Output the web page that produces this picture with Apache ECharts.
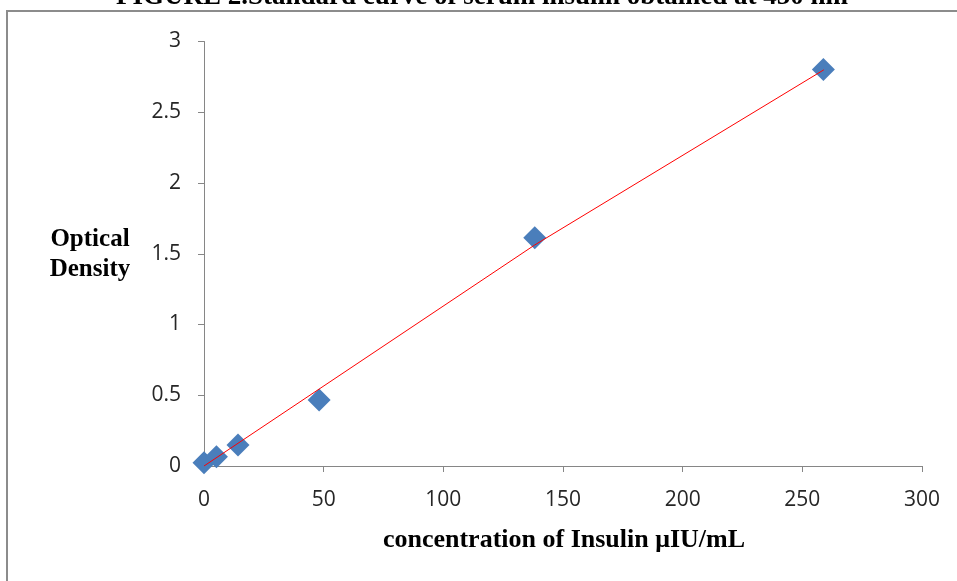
<!DOCTYPE html>
<html>
<head>
<meta charset="utf-8">
<script src="https://cdn.jsdelivr.net/npm/echarts@6/dist/echarts.min.js"></script>
<style>
html,body{margin:0;padding:0;background:#fff;}
#chart{width:957px;height:581px;}
</style>
</head>
<body>
<div id="chart"></div>
<script>
var concX = [0, 5.2, 14.2, 48.1, 138.2, 258.8];
var odY = [0.023, 0.066, 0.148, 0.466, 1.613, 2.803];
// red trend line
var trendX = [0, 138, 259];
var trendY = [0, 1.56, 2.80];
var yTicks = [0, 0.5, 1, 1.5, 2, 2.5, 3];
var xTicks = [0, 50, 100, 150, 200, 250, 300];

var points = concX.map(function(x, i){ return [x, odY[i]]; });
var trend = trendX.map(function(x, i){ return [x, trendY[i]]; });

var chart = echarts.init(document.getElementById('chart'));
var axisFont = {fontFamily:'Open Sans', fontSize:21, color:'#262626'};
chart.setOption({
    animation:false,
    grid:{left:204, right:35, top:41.5, bottom:115},
    graphic:[
        {type:'rect', shape:{x:7, y:11, width:1100, height:1000}, style:{fill:'none', stroke:'#8c8c8c', lineWidth:2}, z:-1},
        {type:'text', x:482, y:-16, style:{text:'FIGURE 2.Standard curve of serum insulin obtained at 450 nm', font:'bold 27px "Liberation Serif"', fill:'#000', textAlign:'center'}},
        {type:'text', x:90, y:255, style:{text:'Optical\nDensity', font:'bold 25px "Liberation Serif"', fill:'#000', textAlign:'center', textVerticalAlign:'middle', lineHeight:30}},
        {type:'text', x:564, y:540, style:{text:'concentration of Insulin μIU/mL', font:'bold 26px "Liberation Serif"', fill:'#000', textAlign:'center', textVerticalAlign:'middle'}}
    ],
    xAxis:{
        type:'value', min:xTicks[0], max:xTicks[xTicks.length-1], interval:50,
        axisLine:{onZero:false, lineStyle:{color:'#868686', width:1}},
        axisTick:{show:true, length:6, lineStyle:{color:'#868686'}},
        axisLabel:Object.assign({margin:24}, axisFont),
        splitLine:{show:false}
    },
    yAxis:{
        type:'value', min:yTicks[0], max:yTicks[yTicks.length-1], interval:0.5,
        axisLine:{show:true, lineStyle:{color:'#868686', width:1}},
        axisTick:{show:true, length:6, lineStyle:{color:'#868686'}},
        axisLabel:Object.assign({margin:23}, axisFont),
        splitLine:{show:false}
    },
    series:[
        {type:'scatter', data:points, symbol:'diamond', symbolSize:[23,23], itemStyle:{color:'#4a7ebb', opacity:1}, z:2},
        {type:'line', data:trend, symbol:'none', lineStyle:{color:'#ff0000', width:1}, z:3}
    ]
});
</script>
</body>
</html>
